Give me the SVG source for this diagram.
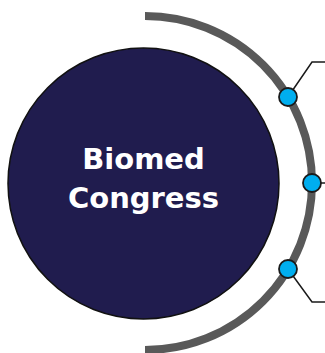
<svg xmlns="http://www.w3.org/2000/svg" width="325" height="353" viewBox="0 0 325 353">
<style>
.arc{fill:none;stroke:#595959;stroke-width:8}
.lead{fill:none;stroke:#1a1a1a;stroke-width:1.5}
.dot{fill:#00AEEF;stroke:#1a1a1a;stroke-width:1.8}
.title{font-family:"DejaVu Sans",sans-serif;font-weight:bold;font-size:29px;fill:#ffffff;text-anchor:middle}
</style>
<rect width="325" height="353" fill="#ffffff"/>
<g id="ring">
<path class="arc" d="M145,16 A167,167 0 0 1 145,350"/>
</g>
<g id="center">
<circle cx="143.5" cy="183.5" r="135.5" fill="#201C4E" stroke="#111111" stroke-width="1.5"/>
<text class="title" x="143.5" y="169">Biomed</text>
<text class="title" x="143.5" y="208">Congress</text>
</g>
<g id="connectors">
<polyline class="lead" points="288,97 312,62 325,62"/>
<polyline class="lead" points="312,183 325,183"/>
<polyline class="lead" points="288,269 312,302 325,302"/>
</g>
<g id="dot1"><circle class="dot" cx="288" cy="97" r="9"/></g>
<g id="dot2"><circle class="dot" cx="312" cy="183" r="9"/></g>
<g id="dot3"><circle class="dot" cx="288" cy="269" r="9"/></g>
</svg>
